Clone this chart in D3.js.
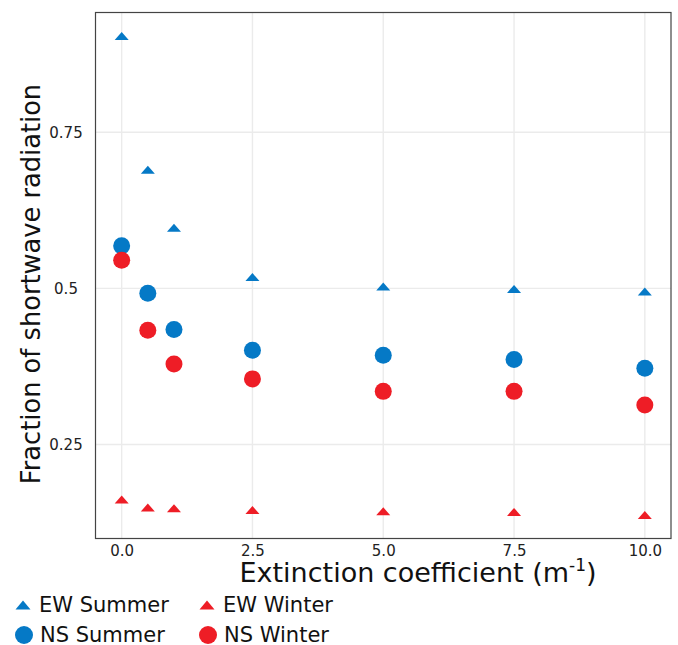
<!DOCTYPE html>
<html>
<head>
<meta charset="utf-8">
<script src="https://cdn.jsdelivr.net/npm/d3@7"></script>
<style>
  body { margin: 0; background: #fff; }
  text { font-family: "DejaVu Sans", sans-serif; }
</style>
</head>
<body>
<svg id="chart" width="678" height="645"></svg>
<script>
// Extinction coefficients (x)
var coefficients = [0, 0.5, 1, 2.5, 5, 7.5, 10];

// Series values
var ewSummer = [0.904, 0.690, 0.597, 0.518, 0.503, 0.499, 0.495];
var nsSummer = [0.568, 0.492, 0.434, 0.401, 0.393, 0.386, 0.372];
var nsWinter = [0.545, 0.433, 0.379, 0.355, 0.335, 0.335, 0.313];
var ewWinter = [0.162, 0.149, 0.148, 0.145, 0.143, 0.142, 0.137];

var xTicks = [0, 2.5, 5, 7.5, 10];
var yTicks = [0.25, 0.5, 0.75];
var yTickLabels = ["0.25", "0.5", "0.75"];

var blue = "#0579c6";
var red = "#ee1d26";

var series = [
  { name: "EW Summer", values: ewSummer, color: blue, shape: "triangle" },
  { name: "EW Winter", values: ewWinter, color: red, shape: "triangle" },
  { name: "NS Summer", values: nsSummer, color: blue, shape: "circle" },
  { name: "NS Winter", values: nsWinter, color: red, shape: "circle" }
];

var svg = d3.select("#chart");
var plotLeft = 95.5, plotRight = 671, plotTop = 12.5, plotBottom = 538.5;

var x = d3.scaleLinear().domain([-0.5, 10.5]).range([plotLeft, plotRight]);
var y = d3.scaleLinear().domain([0.0994, 0.9417]).range([plotBottom, plotTop]);

// gridlines
svg.append("g").selectAll("line")
  .data(xTicks).enter().append("line")
  .attr("x1", function(d){ return x(d); })
  .attr("x2", function(d){ return x(d); })
  .attr("y1", plotTop).attr("y2", plotBottom)
  .attr("stroke", "#ebebeb").attr("stroke-width", 1.4);
svg.append("g").selectAll("line")
  .data(yTicks).enter().append("line")
  .attr("x1", plotLeft).attr("x2", plotRight)
  .attr("y1", function(d){ return y(d); })
  .attr("y2", function(d){ return y(d); })
  .attr("stroke", "#ebebeb").attr("stroke-width", 1.4);

// triangle path centred at 0,0
var triPath = function(w, h){
  return "M" + (-w/2) + "," + (h/2) + "L0," + (-h/2) + "L" + (w/2) + "," + (h/2) + "Z";
};

// points
series.forEach(function(s){
  var pts = coefficients.map(function(c, i){ return { x: c, y: s.values[i] }; });
  var g = svg.append("g");
  if (s.shape === "circle") {
    g.selectAll("circle").data(pts).enter().append("circle")
      .attr("cx", function(d){ return x(d.x); })
      .attr("cy", function(d){ return y(d.y); })
      .attr("r", 8.5)
      .attr("fill", s.color);
  } else {
    g.selectAll("path").data(pts).enter().append("path")
      .attr("d", triPath(14, 8))
      .attr("transform", function(d){ return "translate(" + x(d.x) + "," + y(d.y) + ")"; })
      .attr("fill", s.color);
  }
});

// panel border
svg.append("rect")
  .attr("x", plotLeft).attr("y", plotTop)
  .attr("width", plotRight - plotLeft).attr("height", plotBottom - plotTop)
  .attr("fill", "none").attr("stroke", "#444").attr("stroke-width", 1.2);

// axes
var xAxis = d3.axisBottom(x).tickValues(xTicks).tickSize(0).tickPadding(7)
  .tickFormat(d3.format(".1f"));
var gx = svg.append("g").attr("transform", "translate(0," + plotBottom + ")").call(xAxis);
gx.select(".domain").remove();
gx.selectAll("text").attr("font-size", 15).attr("fill", "#222")
  .attr("font-family", "DejaVu Sans");

var yAxis = d3.axisLeft(y).tickValues(yTicks).tickSize(0)
  .tickFormat(function(d, i){ return yTickLabels[i]; });
var gy = svg.append("g").attr("transform", "translate(66,0)").call(yAxis);
gy.select(".domain").remove();
gy.selectAll("text").attr("font-size", 15).attr("fill", "#222")
  .attr("text-anchor", "middle").attr("x", 0).attr("dy", "0.32em")
  .attr("font-family", "DejaVu Sans");

// axis titles
var xt = svg.append("text")
  .attr("x", 418).attr("y", 582)
  .attr("text-anchor", "middle")
  .attr("font-size", 27).attr("fill", "#111");
xt.append("tspan").text("Extinction coefficient (m");
xt.append("tspan").attr("font-size", 17).attr("dy", -11).text("-1");
xt.append("tspan").attr("dy", 11).text(")");

svg.append("text")
  .attr("transform", "translate(40,284) rotate(-90)")
  .attr("text-anchor", "middle")
  .attr("font-size", 25.7).attr("fill", "#111")
  .text("Fraction of shortwave radiation");

// legend
var legendPos = [
  { x: 23, y: 605 }, { x: 207, y: 605 },
  { x: 24, y: 635 }, { x: 208, y: 635 }
];
series.forEach(function(s, i){
  var p = legendPos[i];
  var lg = svg.append("g").attr("transform", "translate(" + p.x + "," + p.y + ")");
  if (s.shape === "circle") {
    lg.append("circle").attr("r", 9).attr("fill", s.color);
  } else {
    lg.append("path").attr("d", triPath(15, 9)).attr("fill", s.color);
  }
  lg.append("text").attr("x", 16).attr("dy", "0.35em")
    .attr("font-size", 21).attr("fill", "#111").text(s.name);
});
</script>
</body>
</html>
